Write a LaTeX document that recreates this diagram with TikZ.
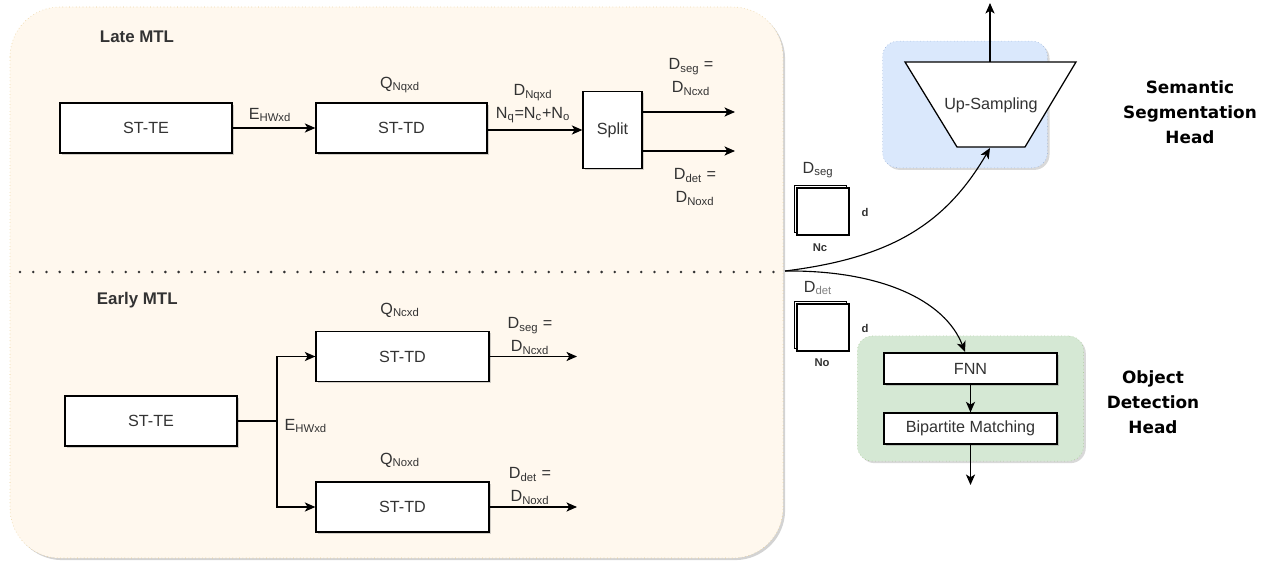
\documentclass[tikz,border=0pt]{standalone}
\usepackage{fontspec}
\setmainfont{Liberation Sans}
\newfontfamily\headfont{DejaVu Sans}
\usetikzlibrary{arrows.meta}
\usetikzlibrary{fit}
\usetikzlibrary{backgrounds}
\usetikzlibrary{shadows}
\definecolor{mtlfill}{HTML}{FFF8EE}
\definecolor{mtldraw}{HTML}{E6C98A}
\definecolor{segfill}{HTML}{DAE8FC}
\definecolor{segdraw}{HTML}{8FA9D4}
\definecolor{detfill}{HTML}{D5E8D4}
\definecolor{detdraw}{HTML}{97C07F}
\definecolor{txt}{HTML}{333333}
\tikzstyle{block}=[rectangle,
line width=0.9pt,
draw=black,
fill=white,
text=txt,
minimum height=1.25cm,
drop shadow={shadow xshift=1.2pt,shadow yshift=-1.2pt,opacity=0.35}]
\tikzstyle{annot}=[text=txt,
inner sep=1pt,
align=center]
\tikzstyle{matbox}=[rectangle,
line width=0.8pt,
draw=black,
fill=white,
minimum width=1.3cm,
minimum height=1.175cm,
copy shadow={shadow xshift=-1.8pt,shadow yshift=1.8pt}]
\tikzstyle{small}=[font=\fontsize{8}{9}\selectfont\bfseries,
text=txt]
\tikzstyle{head}=[font=\headfont\bfseries\fontsize{12}{17.7}\selectfont,
align=center]
\tikzstyle{mtlbox}=[fill=mtlfill,
draw=mtldraw,
dotted,
rounded corners=1.25cm,
drop shadow={shadow xshift=1.5pt,shadow yshift=-1.5pt,opacity=0.35}]
\tikzstyle{headbox}=[rectangle,
dotted,
rounded corners=0.38cm,
drop shadow={shadow xshift=1.5pt,shadow yshift=-1.5pt,opacity=0.3}]

\begin{document}
\begin{tikzpicture}[x=0.025cm,y=-0.025cm,>={Stealth[length=7.5pt,width=6.5pt,inset=2pt]},
	font=\fontsize{11.5}{16}\selectfont]
	\useasboundingbox (0,0) rectangle (1276,563);
	
	% Late MTL: encoder, decoder and split
	\node (late_title) [anchor=west,font=\fontsize{12}{14}\selectfont\bfseries,text=txt] at (95,37) {Late MTL};
	\node (te_late) [block,minimum width=4.3cm] at (146,128) {ST-TE};
	\node (td_late) [block,minimum width=4.275cm] at (401.5,128) {ST-TD};
	\node (split)   [block,minimum width=1.475cm,minimum height=1.925cm] at (612.5,130) {Split};
	\coordinate (seg_late_out) at (735,112);
	\coordinate (det_late_out) at (735,151);
	
	\node (e_late)   [annot] at (270,115) {E\textsubscript{HWxd}};
	\node (q_late)   [annot] at (400,85) {Q\textsubscript{Nqxd}};
	\node (d_late)   [annot] at (533,104) {D\textsubscript{Nqxd}\\N\textsubscript{q}=N\textsubscript{c}+N\textsubscript{o}};
	\node (seg_late) [annot] at (691,77) {D\textsubscript{seg} =\\D\textsubscript{Ncxd}};
	\node (det_late) [annot] at (695,187) {D\textsubscript{det} =\\D\textsubscript{Noxd}};
	
	\path[->,line width=0.8pt]
	(te_late) edge (td_late)
	(td_late.east |- split) edge (split)
	(split.east |- seg_late_out) edge (seg_late_out)
	(split.east |- det_late_out) edge (det_late_out)
	;
	
	% Early MTL: one encoder, two decoders
	\node (early_title) [anchor=west,font=\fontsize{12}{14}\selectfont\bfseries,text=txt] at (92,300) {Early MTL};
	\node (te_early) [block,minimum width=4.3cm] at (151,421) {ST-TE};
	\node (td_seg)   [block,minimum width=4.325cm] at (402.5,356.5) {ST-TD};
	\node (td_det)   [block,minimum width=4.325cm] at (402.5,507) {ST-TD};
	\coordinate (fork) at (277,421);
	\coordinate (seg_early_out) at (577,356.5);
	\coordinate (det_early_out) at (577,507);
	
	\node (e_early)   [annot,anchor=west] at (283,426) {E\textsubscript{HWxd}};
	\node (q_seg)     [annot] at (400,310) {Q\textsubscript{Ncxd}};
	\node (q_det)     [annot] at (400,460) {Q\textsubscript{Noxd}};
	\node (seg_early) [annot] at (530,336) {D\textsubscript{seg} =\\D\textsubscript{Ncxd}};
	\node (det_early) [annot] at (530,486) {D\textsubscript{det} =\\D\textsubscript{Noxd}};
	
	\draw[->,line width=0.8pt] (te_early) -- (fork) |- (td_seg);
	\draw[->,line width=0.8pt] (fork) |- (td_det);
	\draw[->,line width=0.8pt] (td_seg) -- (seg_early_out);
	\draw[->,line width=0.8pt] (td_det) -- (det_early_out);
	
	% Output matrices
	\node (seg_mat) [matbox] at (823,211.5) {};
	\node (seg_mat_name) [annot] at (818,170) {D\textsubscript{seg}};
	\node (seg_mat_d)  [small] at (865,212) {d};
	\node (seg_mat_n)  [small] at (820,248) {Nc};
	\node (det_mat) [matbox] at (823,327.5) {};
	\node (det_mat_name) [annot] at (818,288) {D\textsubscript{\textcolor{gray}{det}}};
	\node (det_mat_d)  [small] at (865,328) {d};
	\node (det_mat_n)  [small] at (822,363) {No};
	
	% Semantic segmentation head
	\coordinate (ups_tl) at (905,62);
	\coordinate (ups_tr) at (1076,62);
	\coordinate (ups_br) at (1025,147);
	\coordinate (ups_bl) at (957,147);
	\coordinate (ups_in) at (990,148);
	\coordinate (ups_top) at (990,62);
	\coordinate (seg_res) at (990,3);
	\draw[line width=0.9pt,fill=white] (ups_tl) -- (ups_tr) -- (ups_br) -- (ups_bl) -- cycle;
	\node (ups) [annot] at (991,105) {Up-Sampling};
	\node (seg_head) [head] at (1190,112) {Semantic\\Segmentation\\Head};
	
	% Object detection head
	\node (fnn) [block,minimum width=4.325cm,minimum height=0.775cm] at (970.5,368.5) {FNN};
	\node (bip) [block,minimum width=4.325cm,minimum height=0.775cm] at (970.5,428.5) {Bipartite Matching};
	\coordinate (fnn_in) at (965,352);
	\coordinate (det_res) at (970.5,485);
	\node (det_head) [head] at (1153,402) {Object\\Detection\\Head};
	
	\draw[->,line width=0.8pt] (ups_top) -- (seg_res);
	\draw[->,line width=0.8pt] (fnn) -- (bip);
	\draw[->,line width=0.8pt] (bip) -- (det_res);
	
	% Branch from the shared decoder output to both heads
	\coordinate (br) at (785,271);
	\draw[->,line width=0.8pt] (br) .. controls (890,258) and (945,225) .. (ups_in);
	\draw[->,line width=0.8pt] (br) .. controls (880,270) and (945,300) .. (fnn_in);
	
	% Backgrounds of the two variants and of the heads
	\begin{pgfonlayer}{background}
	\draw[mtlbox] (10,7) rectangle (783,558);
	\draw[line width=2pt,line cap=round,dash pattern=on 0pt off 9.4pt,txt] (20,272) -- (783,272);
	\node [headbox,fill=segfill,draw=segdraw,
	fit=(ups_tl) (ups_br),
	inner xsep=0.56cm,inner ysep=0.52cm] {};
	\node [headbox,fill=detfill,draw=detdraw,
	fit=(fnn) (bip),
	inner xsep=0.65cm,inner ysep=0.41cm] {};
	\end{pgfonlayer}
\end{tikzpicture}
\end{document}
